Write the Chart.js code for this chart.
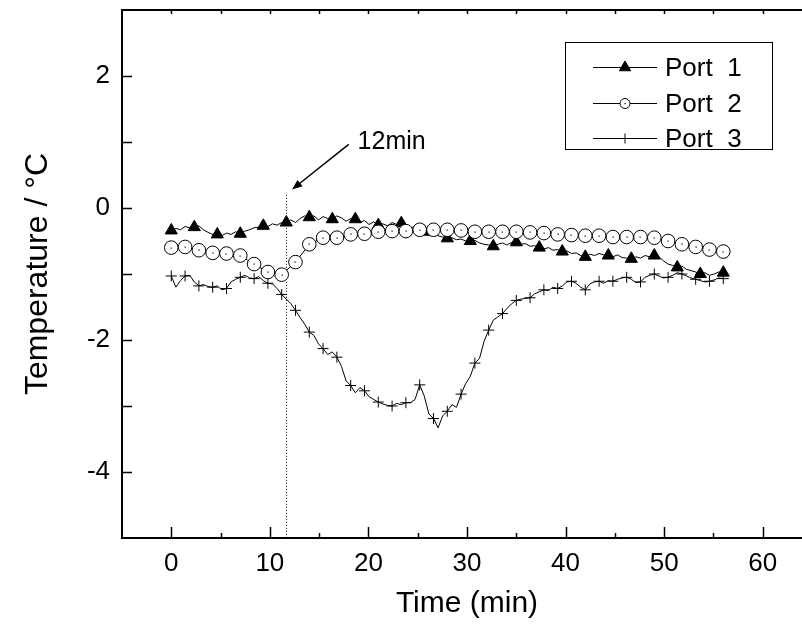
<!DOCTYPE html>
<html>
<head>
<meta charset="utf-8">
<script src="https://cdn.jsdelivr.net/npm/chart.js@4/dist/chart.umd.min.js"></script>
<style>
  html, body { margin: 0; padding: 0; background: #fff; overflow: hidden; }
  #wrap { width: 802px; height: 626px; overflow: hidden; }
</style>
</head>
<body>
<!-- the plot runs a little past the right edge of the picture, as in the original -->
<div id="wrap"><canvas id="chart" width="812" height="626"></canvas></div>
<script>
// sampling interval of the logger: 28 s
const STEP = 28 / 60;

// Port 1 (every sample)
const port1 = [
  -0.34, -0.31, -0.33, -0.28, -0.30,
  -0.29, -0.27, -0.33, -0.37, -0.40,
  -0.40, -0.42, -0.38, -0.40, -0.36,
  -0.39, -0.35, -0.33, -0.30, -0.29,
  -0.27, -0.28, -0.24, -0.26, -0.22,
  -0.22, -0.18, -0.22, -0.16, -0.12,
  -0.14, -0.12, -0.18, -0.13, -0.16,
  -0.17, -0.12, -0.15, -0.20, -0.16,
  -0.17, -0.22, -0.19, -0.25, -0.21,
  -0.26, -0.24, -0.27, -0.22, -0.25,
  -0.23, -0.27, -0.30, -0.28, -0.33,
  -0.36, -0.38, -0.40, -0.42, -0.44,
  -0.46, -0.45, -0.48, -0.47, -0.50,
  -0.50, -0.49, -0.53, -0.55, -0.56,
  -0.58, -0.55, -0.53, -0.56, -0.52,
  -0.52, -0.55, -0.54, -0.58, -0.57,
  -0.60, -0.62, -0.60, -0.64, -0.63,
  -0.66, -0.65, -0.69, -0.68, -0.72,
  -0.74, -0.70, -0.72, -0.69, -0.71,
  -0.72, -0.74, -0.71, -0.75, -0.76,
  -0.77, -0.74, -0.76, -0.72, -0.74,
  -0.72, -0.74, -0.80, -0.85, -0.87,
  -0.90, -0.88, -0.93, -0.95, -0.97,
  -1.00, -0.98, -1.02, -1.00, -0.97,
  -0.98
];

// Port 2 (every 3rd sample)
const port2 = [
  -0.60, -0.59, -0.64, -0.68, -0.69, -0.72, -0.85, -0.97, -1.01, -0.82,
  -0.55, -0.45, -0.45, -0.40, -0.39, -0.36, -0.35, -0.35, -0.33, -0.33,
  -0.33, -0.34, -0.36, -0.36, -0.36, -0.36, -0.37, -0.38, -0.40, -0.41,
  -0.42, -0.42, -0.44, -0.44, -0.44, -0.45, -0.50, -0.55, -0.59, -0.63,
  -0.66
];

// Port 3 (every sample)
const port3 = [
  -1.03, -1.20, -1.10,
  -1.03, -1.02, -1.12,
  -1.18, -1.16, -1.19,
  -1.20, -1.18, -1.24,
  -1.22, -1.12, -1.08,
  -1.05, -1.02, -1.06,
  -1.07, -1.04, -1.10,
  -1.14, -1.15, -1.22,
  -1.31, -1.38, -1.45,
  -1.55, -1.66, -1.76,
  -1.88, -1.93, -2.06,
  -2.13, -2.22, -2.18,
  -2.26, -2.40, -2.62,
  -2.69, -2.80, -2.72,
  -2.77, -2.86, -2.90,
  -2.94, -2.97, -2.99,
  -3.00, -2.96, -2.98,
  -2.95, -2.95, -2.90,
  -2.68, -2.85, -3.12,
  -3.19, -3.33, -3.15,
  -3.08, -2.98, -3.02,
  -2.82, -2.66, -2.55,
  -2.35, -2.28, -2.02,
  -1.85, -1.70, -1.65,
  -1.60, -1.52, -1.45,
  -1.40, -1.38, -1.37,
  -1.36, -1.30, -1.27,
  -1.24, -1.25, -1.20,
  -1.22, -1.18, -1.12,
  -1.11, -1.14, -1.20,
  -1.24, -1.15, -1.12,
  -1.11, -1.14, -1.10,
  -1.11, -1.08, -1.06,
  -1.05, -1.08, -1.13,
  -1.12, -1.05, -1.02,
  -1.00, -1.03, -1.06,
  -1.05, -1.02, -0.98,
  -1.00, -1.03, -1.06,
  -1.08, -1.10, -1.12,
  -1.11, -1.09, -1.06,
  -1.07
];

const seriesNames = ['Port  1', 'Port  2', 'Port  3'];
const xTickLabels = [0, 10, 20, 30, 40, 50, 60];
const yTickLabels = [-4, -2, 0, 2];
const markTime = 11.65;  // the "12min" marker line

const FONT = "'Liberation Sans', Arial, sans-serif";

function toXY(vals, step) {
  return vals.map((v, i) => ({ x: i * step, y: v }));
}

function noPad(s) {
  s.paddingTop = 0; s.paddingBottom = 0; s.paddingLeft = 0; s.paddingRight = 0;
}

// axes frame with inward ticks, like Origin
const framePlugin = {
  id: 'frame',
  afterDraw(chart) {
    const { ctx, chartArea: a, scales: { x, y } } = chart;
    ctx.save();
    ctx.strokeStyle = '#000';
    ctx.lineWidth = 2;
    ctx.beginPath();
    ctx.moveTo(a.right, a.top); ctx.lineTo(a.left, a.top);
    ctx.lineTo(a.left, a.bottom); ctx.lineTo(a.right, a.bottom);
    ctx.stroke();

    ctx.lineWidth = 1.5;
    ctx.beginPath();
    for (let v = 0; v <= 60; v += 5) {
      const px = Math.round(x.getPixelForValue(v)) + 0.5;
      const len = v % 10 === 0 ? 11 : 5;
      ctx.moveTo(px, a.bottom); ctx.lineTo(px, a.bottom - len);
      ctx.moveTo(px, a.top); ctx.lineTo(px, a.top + 4);
    }
    for (let v = -4; v <= 2; v += 1) {
      const py = Math.round(y.getPixelForValue(v)) + 0.5;
      ctx.moveTo(a.left, py); ctx.lineTo(a.left + 10, py);
    }
    ctx.stroke();
    ctx.restore();
  }
};

// dotted 12 min line, arrow and label
const notePlugin = {
  id: 'note',
  beforeDatasetsDraw(chart) {
    const { ctx, chartArea: a, scales: { x, y } } = chart;
    ctx.save();
    ctx.strokeStyle = '#000';
    ctx.lineWidth = 1;
    ctx.setLineDash([1, 2]);
    const px = Math.round(x.getPixelForValue(markTime)) + 0.5;
    ctx.beginPath();
    ctx.moveTo(px, y.getPixelForValue(0.2));
    ctx.lineTo(px, a.bottom);
    ctx.stroke();
    ctx.restore();
  },
  afterDatasetsDraw(chart) {
    const { ctx, scales: { x, y } } = chart;
    ctx.save();
    // center dots of the Port 2 circles
    const meta = chart.getDatasetMeta(1);
    ctx.fillStyle = '#000';
    meta.data.forEach(p => ctx.fillRect(Math.round(p.x) - 0.5, Math.round(p.y) - 0.5, 1.2, 1.2));

    const x0 = x.getPixelForValue(18.0), y0 = y.getPixelForValue(0.965);
    const x1 = x.getPixelForValue(12.25), y1 = y.getPixelForValue(0.28);
    const ang = Math.atan2(y1 - y0, x1 - x0);
    ctx.strokeStyle = '#000';
    ctx.lineWidth = 1.5;
    ctx.beginPath();
    ctx.moveTo(x0, y0);
    ctx.lineTo(x1 - Math.cos(ang) * 6, y1 - Math.sin(ang) * 6);
    ctx.stroke();
    ctx.beginPath();
    ctx.moveTo(x1, y1);
    ctx.lineTo(x1 - Math.cos(ang - 0.38) * 11, y1 - Math.sin(ang - 0.38) * 11);
    ctx.lineTo(x1 - Math.cos(ang + 0.38) * 11, y1 - Math.sin(ang + 0.38) * 11);
    ctx.closePath();
    ctx.fill();

    ctx.font = '25px ' + FONT;
    ctx.textBaseline = 'middle';
    ctx.textAlign = 'left';
    ctx.fillText('12min', x.getPixelForValue(18.9), y.getPixelForValue(1.0));
    ctx.restore();
  }
};

// Origin style legend: line + marker + name
const legendPlugin = {
  id: 'originLegend',
  afterDraw(chart) {
    const { ctx } = chart;
    const box = { l: 565.5, t: 42.5, r: 772.5, b: 149.5 };
    ctx.save();
    ctx.strokeStyle = '#000';
    ctx.lineWidth = 1;
    ctx.fillStyle = '#fff';
    ctx.fillRect(box.l, box.t, box.r - box.l, box.b - box.t);
    ctx.strokeRect(box.l, box.t, box.r - box.l, box.b - box.t);
    const rows = [67, 103, 138];
    chart.data.datasets.forEach((ds, i) => {
      const yy = rows[i] + 0.5;
      ctx.beginPath();
      ctx.moveTo(593, yy); ctx.lineTo(657, yy);
      ctx.strokeStyle = '#000';
      ctx.lineWidth = 1;
      ctx.stroke();
      const style = { pointStyle: ds.pointStyle, rotation: 0, borderWidth: 1 };
      ctx.fillStyle = i === 1 ? '#fff' : '#000';
      ctx.strokeStyle = '#000';
      ctx.lineWidth = 1;
      style.radius = i === 0 ? 6.5 : 5;
      Chart.helpers.drawPoint(ctx, style, 625, yy);
      if (i === 1) { ctx.fillStyle = '#000'; ctx.fillRect(624.5, yy - 0.5, 1.2, 1.2); }
      ctx.fillStyle = '#000';
      ctx.font = '26px ' + FONT;
      ctx.textBaseline = 'middle';
      ctx.fillText(ds.label, 665, yy + 1);
    });
    ctx.restore();
  }
};

new Chart(document.getElementById('chart').getContext('2d'), {
  type: 'line',
  data: {
    datasets: [
      {
        label: seriesNames[0],
        data: toXY(port1, STEP),
        borderColor: '#000',
        borderWidth: 1,
        pointStyle: 'triangle',
        pointRadius: c => (c.dataIndex % 5 === 0 ? 7 : 0),
        pointBackgroundColor: '#000',
        pointBorderColor: '#000',
        pointBorderWidth: 1,
        tension: 0,
        order: 2
      },
      {
        label: seriesNames[1],
        data: toXY(port2, STEP * 3),
        borderColor: '#000',
        borderWidth: 1,
        pointStyle: 'circle',
        pointRadius: 6.8,
        pointBackgroundColor: '#fff',
        pointBorderColor: '#000',
        pointBorderWidth: 1,
        tension: 0,
        order: 1
      },
      {
        label: seriesNames[2],
        data: toXY(port3, STEP),
        borderColor: '#000',
        borderWidth: 1,
        pointStyle: 'cross',
        pointRadius: c => (c.dataIndex % 3 === 0 ? 5.5 : 0),
        pointBorderColor: '#000',
        pointBorderWidth: 1,
        tension: 0,
        order: 3
      }
    ]
  },
  options: {
    responsive: false,
    animation: false,
    devicePixelRatio: 1,
    layout: { autoPadding: false, padding: { top: 10, right: 0, left: 0, bottom: 0 } },
    plugins: { legend: { display: false }, tooltip: { enabled: false } },
    scales: {
      x: {
        type: 'linear',
        min: -5,
        max: 65,
        grid: { display: false, drawTicks: false },
        border: { display: false },
        afterBuildTicks: s => { s.ticks = xTickLabels.map(v => ({ value: v })); },
        afterFit: s => { s.height = 88; noPad(s); },
        ticks: { color: '#000', padding: 10, maxRotation: 0, font: { family: FONT, size: 26 } },
        title: {
          display: true, text: 'Time (min)', color: '#000',
          font: { family: FONT, size: 30 }, padding: { top: 4, bottom: 4 }
        }
      },
      y: {
        min: -5,
        max: 3,
        grid: { display: false, drawTicks: false },
        border: { display: false },
        afterBuildTicks: s => { s.ticks = yTickLabels.map(v => ({ value: v })); },
        afterFit: s => { s.width = 122; noPad(s); },
        ticks: { color: '#000', padding: 12, font: { family: FONT, size: 26 } },
        title: {
          display: true, text: 'Temperature / °C', color: '#000',
          font: { family: FONT, size: 32 }, padding: { top: 19, bottom: 4 }
        }
      }
    }
  },
  plugins: [notePlugin, framePlugin, legendPlugin]
});
</script>
</body>
</html>
